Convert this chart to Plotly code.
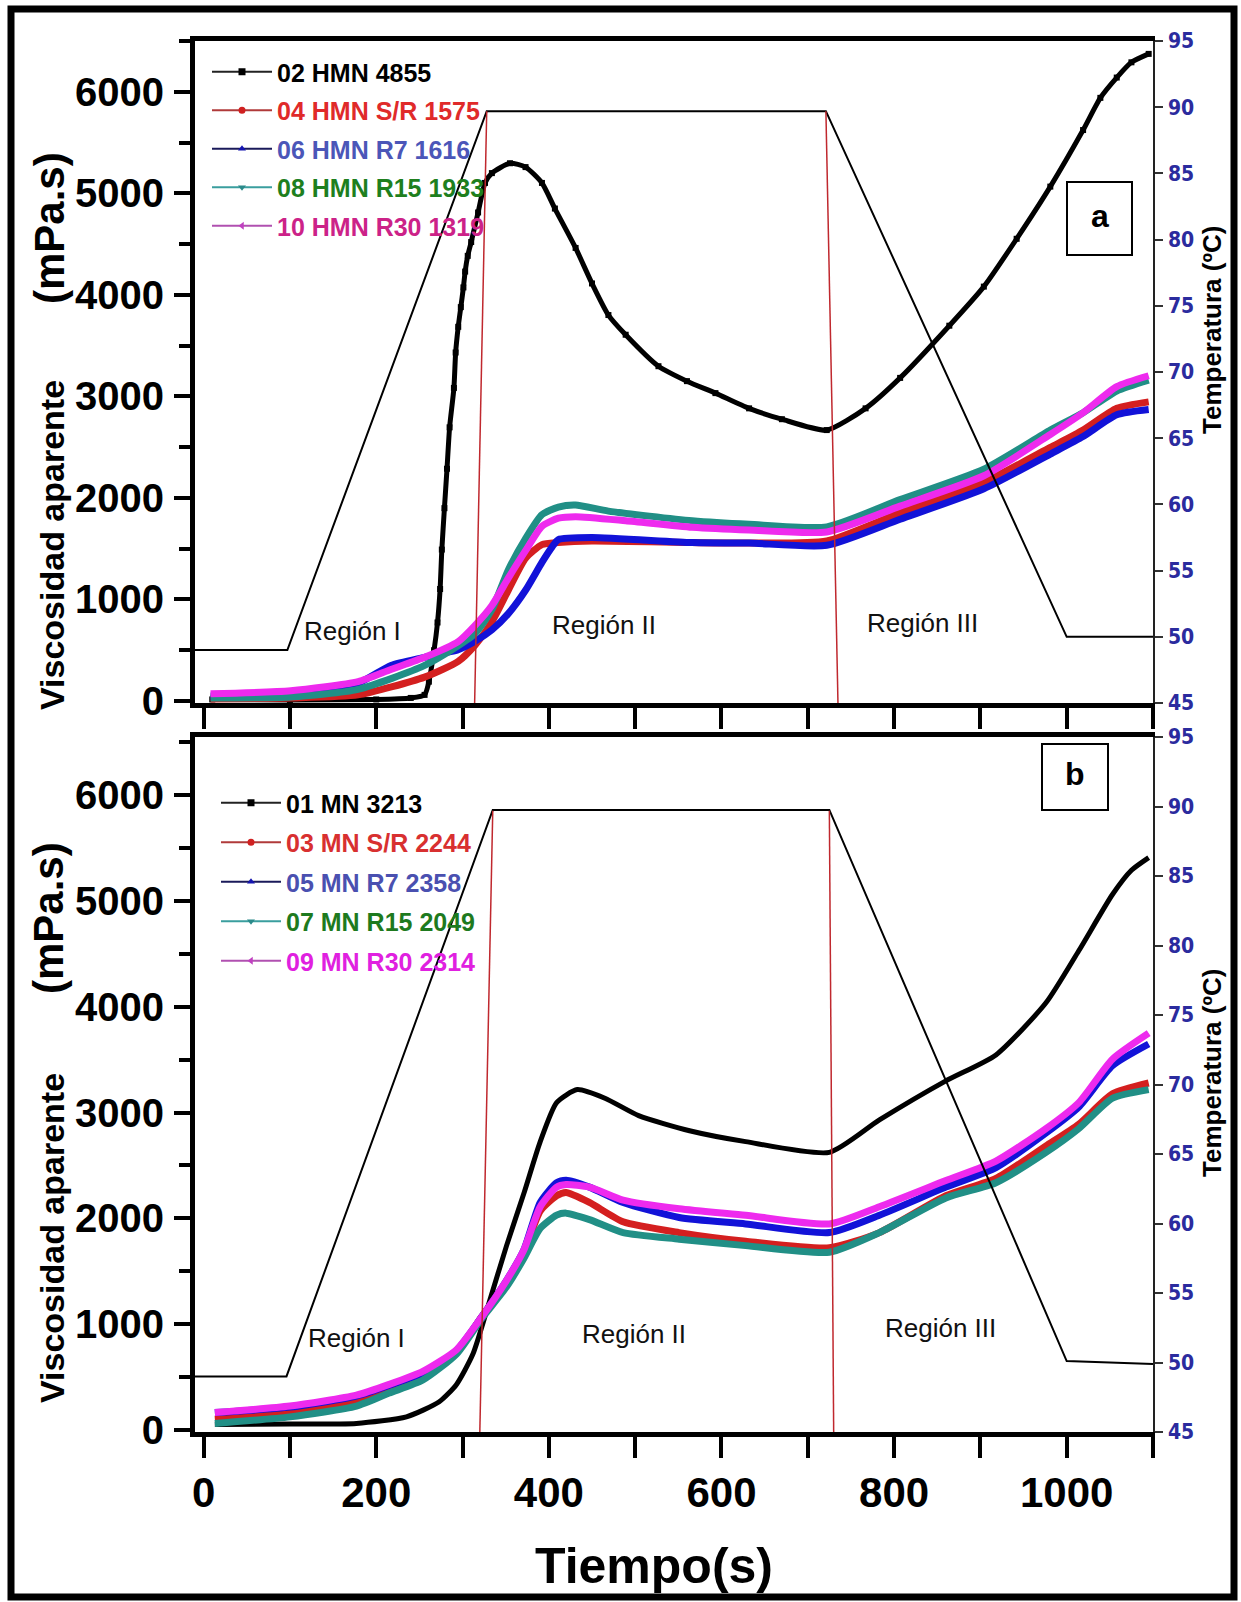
import plotly.graph_objects as go

# ---------------- DATA ----------------
# Panel a (HMN samples) - time (s) and apparent viscosity (mPa.s)
t_a_02 = [10, 100, 200, 240, 256, 261, 267, 271, 274, 276, 279, 282, 285, 290, 292, 295, 298, 301, 303, 306, 310,
          318, 326, 334, 355, 373, 392, 407, 431, 450, 469, 489, 527, 560, 593, 632, 670, 722, 767, 807, 864, 904,
          942, 981, 1019, 1039, 1058, 1075, 1095]
v_a_02 = [15, 10, 15, 30, 60, 190, 500, 773, 1103, 1491, 1899, 2287, 2695, 3083, 3432, 3685, 3879, 4073, 4229, 4384,
          4520, 4811, 5102, 5199, 5296, 5258, 5102, 4850, 4462, 4112, 3801, 3607, 3297, 3150, 3032, 2882, 2775, 2668,
          2882, 3182, 3696, 4081, 4552, 5066, 5623, 5940, 6140, 6290, 6373]

t_a_04 = [8, 101, 179, 256, 295, 314, 334, 353, 373, 392, 411, 450, 566, 632, 722, 807, 904, 981, 1019, 1058, 1095]
v_a_04 = [20, 30, 60, 235, 390, 545, 780, 1090, 1405, 1540, 1560, 1575, 1560, 1555, 1576, 1854, 2154, 2497, 2668,
          2882, 2946]

t_a_06 = [8, 101, 179, 217, 256, 295, 314, 334, 353, 373, 392, 404, 411, 450, 566, 632, 722, 807, 904, 981, 1019,
          1058, 1095]
v_a_06 = [50, 60, 175, 350, 430, 505, 585, 700, 860, 1090, 1365, 1520, 1590, 1610, 1560, 1555, 1533, 1790, 2090,
          2432, 2604, 2818, 2870]

t_a_08 = [8, 101, 179, 256, 314, 334, 353, 373, 392, 411, 431, 469, 566, 632, 722, 807, 904, 981, 1019, 1058, 1095]
v_a_08 = [30, 40, 115, 350, 660, 900, 1290, 1600, 1835, 1910, 1930, 1870, 1775, 1740, 1715, 1983, 2283, 2668, 2839,
          3053, 3160]

t_a_10 = [8, 101, 179, 217, 256, 295, 314, 334, 353, 373, 392, 411, 431, 489, 566, 632, 722, 807, 904, 981, 1019,
          1058, 1095]
v_a_10 = [70, 100, 190, 310, 430, 585, 740, 940, 1210, 1480, 1720, 1800, 1815, 1775, 1710, 1683, 1665, 1919, 2218,
          2625, 2839, 3096, 3203]

# Panel b (MN samples)
t_b_01 = [13, 100, 177, 235, 273, 293, 312, 331, 351, 371, 390, 409, 433, 465, 504, 563, 628, 725, 783, 860, 918,
          976, 1014, 1053, 1075, 1095]
v_b_01 = [50, 55, 61, 123, 266, 430, 717, 1209, 1742, 2234, 2725, 3094, 3217, 3135, 2971, 2828, 2725, 2623, 2930,
          3299, 3545, 4037, 4529, 5061, 5290, 5410]

t_b = [13, 100, 177, 215, 254, 293, 322, 351, 371, 390, 409, 420, 447, 486, 551, 628, 725, 783, 860, 918, 976,
       1014, 1053, 1095]
v_b_03 = [100, 160, 270, 380, 500, 730, 1066, 1400, 1680, 2070, 2213, 2244, 2150, 1967, 1865, 1783, 1721, 1865, 2213,
          2377, 2684, 2889, 3176, 3279]
v_b_05 = [164, 215, 320, 420, 540, 750, 1066, 1414, 1700, 2150, 2336, 2360, 2295, 2150, 2008, 1947, 1865, 2029, 2295,
          2480, 2807, 3053, 3443, 3648]
v_b_07 = [61, 123, 225, 348, 471, 717, 1050, 1352, 1620, 1905, 2030, 2049, 1988, 1865, 1803, 1742, 1680, 1865, 2193,
          2336, 2623, 2848, 3135, 3217]
v_b_09 = [164, 225, 328, 430, 553, 758, 1066, 1414, 1700, 2110, 2295, 2320, 2295, 2172, 2090, 2029, 1947, 2110, 2357,
          2541, 2848, 3094, 3504, 3750]

# Temperature profiles (ºC)
temp_t_a = [-10, 97, 328, 721, 1000, 1100]
temp_a = [49.0, 49.0, 89.7, 89.7, 50.0, 50.0]
temp_t_b = [-10, 96, 335, 725, 1000, 1100]
temp_b = [49.0, 49.0, 89.75, 89.75, 50.1, 49.9]

# Region boundaries (time at top of plateau, time at bottom of axis)
bound_a = [(328, 314), (721, 735)]
bound_b = [(335, 320), (725, 730)]
bound_temps = (89.7, 45)

# Region labels: (text, time, viscosity)
regions_a = [("Región I", 173, 685), ("Región II", 464, 745), ("Región III", 833, 765)]
regions_b = [("Región I", 177, 870), ("Región II", 499, 909), ("Región III", 854, 967)]

names_a = ["02 HMN 4855", "04 HMN S/R 1575", "06 HMN R7 1616", "08 HMN R15 1933", "10 HMN R30 1319"]
names_b = ["01 MN 3213", "03 MN S/R 2244", "05 MN R7 2358", "07 MN R15 2049", "09 MN R30 2314"]

# ---------------- STYLE ----------------
W, H = 1241, 1602
FONT = "Liberation Sans, Arial, sans-serif"
NARROW = "DejaVu Sans Condensed, Liberation Sans Narrow, Arial Narrow, sans-serif"
curve_colors = ["#000000", "#D41F1F", "#1212D8", "#218F86", "#EE2AEE"]
leg_line_colors = ["#222222", "#B03A3A", "#1A1A5A", "#3A9E9E", "#B050B0"]
leg_marker_colors = ["#000000", "#D02020", "#1515B0", "#2A8A8A", "#C040C0"]
symbols = ["square", "circle", "triangle-up", "triangle-down", "triangle-left"]
text_colors_a = ["#000000", "#E02A2A", "#4B56B8", "#1E7F1E", "#CC2288"]
text_colors_b = ["#000000", "#D83030", "#4A50B0", "#1E7A1E", "#E020E0"]


def px_x(p):
    return p / W


def px_y(p):
    return 1 - p / H


fig = go.Figure()

series_a = [(t_a_02, v_a_02), (t_a_04, v_a_04), (t_a_06, v_a_06), (t_a_08, v_a_08), (t_a_10, v_a_10)]
series_b = [(t_b_01, v_b_01), (t_b, v_b_03), (t_b, v_b_05), (t_b, v_b_07), (t_b, v_b_09)]

for panel, series, xa, ya in [("a", series_a, "x", "y"), ("b", series_b, "x2", "y3")]:
    for i, (tt, vv) in enumerate(series):
        black = i == 0
        fig.add_trace(go.Scatter(
            x=tt, y=vv, xaxis=xa, yaxis=ya, showlegend=False,
            mode="lines+markers" if (black and panel == "a") else "lines",
            line=dict(color=curve_colors[i], width=5 if black else 7, shape="spline", smoothing=0.6),
            marker=dict(symbol="square", size=6, color="#000000"),
            hoverinfo="skip"))

# temperature profiles and region boundaries (right axes)
for tt, tp, bounds, xa, ya in [(temp_t_a, temp_a, bound_a, "x", "y2"), (temp_t_b, temp_b, bound_b, "x2", "y4")]:
    fig.add_trace(go.Scatter(x=tt, y=tp, xaxis=xa, yaxis=ya, mode="lines", showlegend=False,
                             line=dict(color="#000000", width=2), hoverinfo="skip"))
    for (t_top, t_bot) in bounds:
        fig.add_trace(go.Scatter(x=[t_top, t_bot], y=list(bound_temps), xaxis=xa, yaxis=ya, mode="lines",
                                 showlegend=False, line=dict(color="#C0282E", width=1.5), hoverinfo="skip"))

# legend proxies
for legname, names, tcols in [("legend", names_a, text_colors_a), ("legend2", names_b, text_colors_b)]:
    for i, nm in enumerate(names):
        fig.add_trace(go.Scatter(
            x=[None], y=[None], mode="lines+markers", legend=legname, legendgroup=legname + str(i),
            name=f"<span style='color:{tcols[i]}'>{nm}</span>",
            line=dict(color=leg_line_colors[i], width=2),
            marker=dict(symbol=symbols[i], size=7, color=leg_marker_colors[i]),
            xaxis="x" if legname == "legend" else "x2", yaxis="y" if legname == "legend" else "y3"))

xdom = [px_x(195), px_x(1153)]
dom_a = [px_y(703), px_y(41)]
dom_b = [px_y(1432), px_y(737)]

common_x = dict(range=[-10, 1100], showline=True, linewidth=5, linecolor="#000", mirror=True,
                ticks="outside", tickwidth=4, tickcolor="#000", ticklen=21, showgrid=False, zeroline=False,
                automargin=False)
common_yl = dict(dtick=1000, tick0=0, showline=True, linewidth=5, linecolor="#000", ticks="outside",
                 ticklen=16, tickwidth=4, tickcolor="#000", showgrid=False, zeroline=False, automargin=False,
                 minor=dict(dtick=500, ticks="outside", ticklen=11, tickwidth=4, tickcolor="#000"),
                 tickfont=dict(family=FONT, size=40, color="#000", weight="bold"), ticklabelstandoff=2)
common_yr = dict(range=[45, 95], dtick=5, tick0=45, side="right", showline=True, linewidth=1.5,
                 linecolor="#222", ticks="outside", ticklen=8, tickwidth=2, tickcolor="#333",
                 showgrid=False, zeroline=False, automargin=False,
                 tickfont=dict(family=NARROW, size=21, color="#2B2B9E", weight="bold"), ticklabelstandoff=1)

fig.update_layout(
    width=W, height=H, margin=dict(l=0, r=0, t=0, b=0, pad=0),
    paper_bgcolor="white", plot_bgcolor="white",
    font=dict(family=FONT, color="#000"),
    xaxis=dict(domain=xdom, anchor="y", dtick=100, tick0=0, showticklabels=False, **common_x),
    xaxis2=dict(domain=xdom, anchor="y3", dtick=200, tick0=0,
                minor=dict(dtick=100, ticks="outside", ticklen=21, tickwidth=4, tickcolor="#000"),
                tickfont=dict(family=FONT, size=42, color="#000", weight="bold"), ticklabelstandoff=-1,
                **common_x),
    yaxis=dict(domain=dom_a, anchor="x", range=[-20, 6500], **common_yl),
    yaxis2=dict(overlaying="y", anchor="x", **common_yr),
    yaxis3=dict(domain=dom_b, anchor="x2", range=[-20, 6550], **common_yl),
    yaxis4=dict(overlaying="y3", anchor="x2", **common_yr),
    legend=dict(x=px_x(207), y=px_y(49), xanchor="left", yanchor="top", bgcolor="rgba(0,0,0,0)",
                font=dict(family=FONT, size=25, weight="bold"), itemwidth=60, tracegroupgap=3),
    legend2=dict(x=px_x(216), y=px_y(780), xanchor="left", yanchor="top", bgcolor="rgba(0,0,0,0)",
                 font=dict(family=FONT, size=25, weight="bold"), itemwidth=60, tracegroupgap=4),
)

annotations = []
for regs, xr, yr in [(regions_a, "x", "y"), (regions_b, "x2", "y3")]:
    for txt, tx, vy in regs:
        annotations.append(dict(x=tx, y=vy, xref=xr, yref=yr, text=txt, showarrow=False,
                                xanchor="center", yanchor="middle",
                                font=dict(family=FONT, size=26, color="#111")))


def rot_label(xc, yc, text, size):
    return dict(x=px_x(xc), y=px_y(yc), xref="paper", yref="paper", text=text, textangle=-90,
                xanchor="center", yanchor="middle", showarrow=False,
                font=dict(family=FONT, size=size, color="#000", weight="bold"))


for y_visc, y_unit in [(545, 228), (1238, 918)]:
    annotations.append(rot_label(52, y_visc, "Viscosidad aparente", 34))
    annotations.append(rot_label(49, y_unit, "(mPa.s)", 42))
for yc in (330, 1073):
    annotations.append(rot_label(1212, yc, "Temperatura (ºC)", 26))
annotations.append(dict(x=px_x(654), y=px_y(1566), xref="paper", yref="paper", text="Tiempo(s)",
                        xanchor="center", yanchor="middle", showarrow=False,
                        font=dict(family=FONT, size=50, color="#000", weight="bold")))

shapes = [dict(type="rect", xref="paper", yref="paper", x0=px_x(11), x1=px_x(1234), y0=px_y(1597), y1=px_y(9),
               line=dict(color="#000", width=7), fillcolor="rgba(0,0,0,0)")]
for lab, (x0, x1, y0, y1) in [("a", (1067, 1132, 182, 255)), ("b", (1042, 1108, 744, 810))]:
    shapes.append(dict(type="rect", xref="paper", yref="paper", x0=px_x(x0), x1=px_x(x1), y0=px_y(y1),
                       y1=px_y(y0), line=dict(color="#000", width=2), fillcolor="white"))
    annotations.append(dict(x=px_x((x0 + x1) / 2), y=px_y((y0 + y1) / 2 - 3), xref="paper", yref="paper",
                            text=lab, showarrow=False, xanchor="center", yanchor="middle",
                            font=dict(family=FONT, size=32, color="#000", weight="bold")))

fig.update_layout(annotations=annotations, shapes=shapes)
fig.write_html("out.html",
               post_script="document.body.style.margin='0';document.body.style.overflow='hidden';")
